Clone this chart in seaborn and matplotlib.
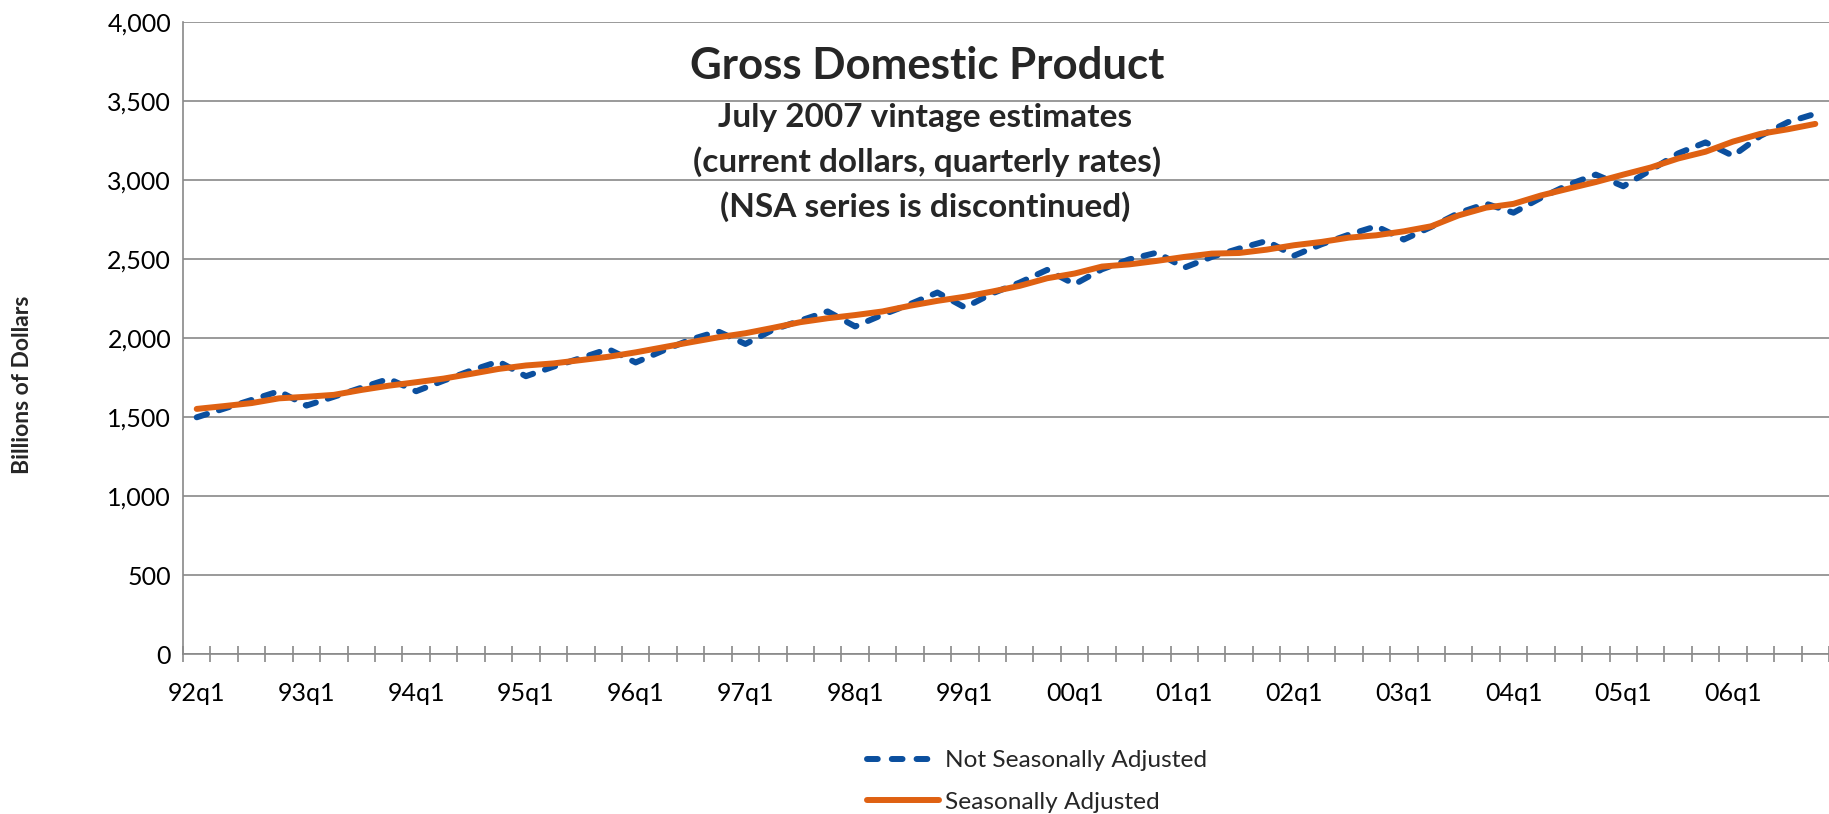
import numpy as np
import pandas as pd
import matplotlib
matplotlib.use("Agg")
import matplotlib.pyplot as plt
import seaborn as sns
from matplotlib.lines import Line2D
from matplotlib.ticker import FuncFormatter

# quarterly GDP, billions of dollars, 92q1 .. 06q4
years = ['92', '93', '94', '95', '96', '97', '98', '99', '00', '01', '02', '03', '04', '05', '06']
quarters = [y + 'q' + str(q) for y in years for q in range(1, 5)]
tick_labels = [y + 'q1' for y in years]

nsa = [1500, 1555, 1610, 1665, 1574, 1630, 1687, 1743, 1665, 1732, 1796, 1853,
       1760, 1820, 1875, 1932, 1847, 1922, 1992, 2044, 1964, 2053, 2112, 2170,
       2075, 2149, 2216, 2290, 2195, 2284, 2353, 2433, 2342, 2437, 2500, 2542,
       2447, 2515, 2568, 2616, 2523, 2595, 2656, 2709, 2625, 2705, 2793, 2852,
       2795, 2889, 2972, 3036, 2962, 3064, 3170, 3240, 3155, 3281, 3368, 3421]
sa = [1553, 1571, 1590, 1620, 1630, 1642, 1673, 1700, 1722, 1745, 1775, 1806,
      1828, 1841, 1862, 1883, 1911, 1943, 1975, 2006, 2032, 2066, 2102, 2127,
      2147, 2170, 2206, 2237, 2263, 2296, 2332, 2380, 2410, 2454, 2468, 2490,
      2515, 2536, 2540, 2561, 2589, 2610, 2637, 2652, 2677, 2709, 2778, 2827,
      2851, 2904, 2947, 2989, 3036, 3081, 3138, 3181, 3245, 3294, 3323, 3357]

NSA_NAME = 'Not Seasonally Adjusted'
SA_NAME = 'Seasonally Adjusted'

sns.set_theme(style='white')
plt.rcParams['font.family'] = ['Lato', 'DejaVu Sans']

grey = '#898989'
blue = '#0B4F9E'
orange = '#DF6112'

df = pd.DataFrame({
    'pos': list(range(len(quarters))) * 2,
    'quarter': quarters * 2,
    'value': nsa + sa,
    'series': [NSA_NAME] * len(nsa) + [SA_NAME] * len(sa),
})

fig = plt.figure(figsize=(18.29, 8.14), dpi=100)
ax = fig.add_axes([183 / 1829, 1 - 654.3 / 814, 1 - 183 / 1829, (654.3 - 22.3) / 814])

sns.lineplot(data=df, x='pos', y='value', hue='series', style='series',
             hue_order=[NSA_NAME, SA_NAME], style_order=[NSA_NAME, SA_NAME],
             palette={NSA_NAME: blue, SA_NAME: orange},
             dashes={NSA_NAME: (1.8, 2.1), SA_NAME: ''},
             linewidth=4.3, ax=ax, legend=False)
for ln in ax.get_lines():
    ln.set_dash_capstyle('round')
    ln.set_solid_capstyle('round')

ax.set_ylim(0, 4000)
ax.set_xlim(-0.5, (1829 - 196.8) / 27.63)
ax.set_yticks(np.arange(0, 4001, 500))
ax.yaxis.set_major_formatter(FuncFormatter(lambda v, p: f'{int(v):,}'))
ax.grid(axis='y', color=grey, linewidth=1.2)
ax.grid(axis='x', visible=False)
ax.set_axisbelow(True)

ax.set_xticks(np.arange(0, len(quarters), 4))
ax.set_xticklabels(tick_labels)
ax.set_xticks(np.arange(-0.5, len(quarters), 1), minor=True)
ax.tick_params(axis='x', which='both', bottom=True)
ax.tick_params(axis='x', which='major', length=0, pad=20, labelsize=18, colors='black')
ax.tick_params(axis='x', which='minor', length=12, width=1.2, direction='inout', color=grey)
ax.tick_params(axis='y', length=0, pad=8.5, labelsize=18, colors='black')
ax.set_xlabel('')
ax.set_ylabel('')

for side in ['top', 'right']:
    ax.spines[side].set_visible(False)
for side in ['left', 'bottom']:
    ax.spines[side].set_color(grey)
    ax.spines[side].set_linewidth(1.2)

fig.text(927 / 1829, 1 - 66 / 814, 'Gross Domestic Product', ha='center', va='center',
         fontsize=31.5, fontweight='bold')
fig.text(925 / 1829, 1 - 117 / 814, 'July 2007 vintage estimates', ha='center', va='center',
         fontsize=24, fontweight='bold')
fig.text(927 / 1829, 1 - 162 / 814, '(current dollars, quarterly rates)', ha='center', va='center',
         fontsize=24, fontweight='bold')
fig.text(925 / 1829, 1 - 207 / 814, '(NSA series is discontinued)', ha='center', va='center',
         fontsize=24, fontweight='bold')
fig.text(23 / 1829, 1 - 385 / 814, 'Billions of Dollars', rotation=90, ha='center', va='center',
         fontsize=16.5, fontweight='bold')

# legend keys drawn like the plotted lines (three whole dashes for the NSA key)
handles = [
    Line2D([], [], color=blue, linewidth=4.3, dashes=(1.8, 2.35), dash_capstyle='round'),
    Line2D([], [], color=orange, linewidth=4.3, solid_capstyle='round'),
]
fig.legend(handles, [NSA_NAME, SA_NAME], loc='upper left',
           bbox_to_anchor=(867 / 1829, 1 - 750 / 814), frameon=False,
           fontsize=17.6, handlelength=2.95, handletextpad=0.25,
           labelspacing=0.85, borderpad=0, borderaxespad=0)

fig.savefig('out.png', dpi=100)
